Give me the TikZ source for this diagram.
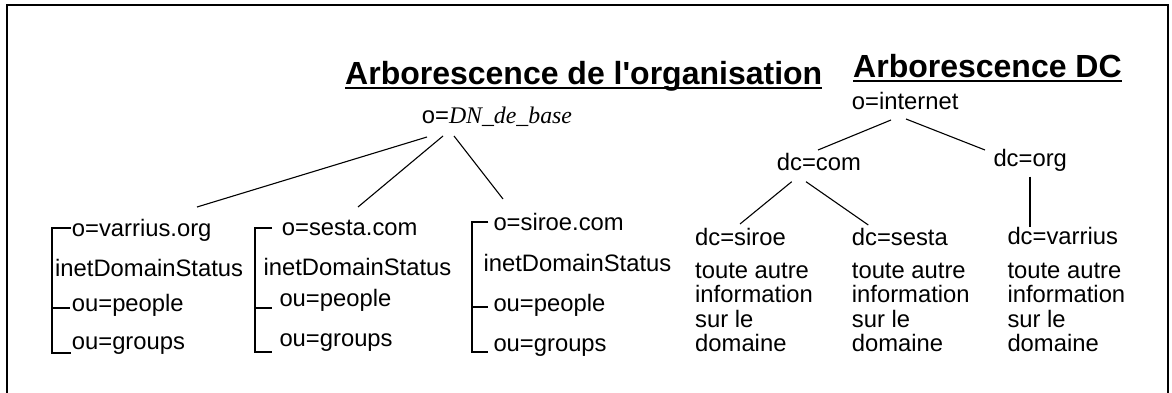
\documentclass[tikz,border=0pt]{standalone}
\usepackage{fontspec}
\setmainfont{Liberation Sans}
\newfontfamily\timesfam{Liberation Serif}
\usetikzlibrary{calc}
\begin{document}
\begin{tikzpicture}[x=1pt,y=-1pt,
  txt/.style={anchor=base west,inner sep=0pt,font=\fontsize{23.8}{24.4}\selectfont},
  para/.style={txt,align=left},
  ttl/.style={anchor=base west,inner sep=0pt,font=\fontsize{32}{36}\selectfont\bfseries},
  frameline/.style={line width=2pt},
  ul/.style={line width=2pt},
  bracket/.style={line width=2pt},
  edge/.style={line width=1.1pt},
  vedge/.style={line width=2pt}]
\useasboundingbox (0,0) rectangle (1172,393);
% frame
\draw[frameline] (6.7,395) -- (6.7,5) -- (1167.5,5) -- (1167.5,395);
% titles
\node[ttl] (t1) at (345,85) {Arborescence de l\textquotesingle organisation};
\node[ttl] (t2) at (853,78) {Arborescence DC};
\draw[ul] ($(t1.base west)+(0,2.8)$) -- ($(t1.base east)+(0,2.8)$);
\draw[ul] ($(t2.base west)+(0,2.8)$) -- ($(t2.base east)+(0,2.8)$);
% organisation tree
\node[txt] (dn) at (421.7,123.3) {o={\timesfam\itshape DN\_de\_base}};
\node[txt] (v1) at (71.7,236.7) {o=varrius.org};
\node[txt] (v2) at (55,276.7) {inetDomainStatus};
\node[txt] (v3) at (71.7,311.7) {ou=people};
\node[txt] (v4) at (71.7,349) {ou=groups};
\node[txt] (s1) at (281.7,235) {o=sesta.com};
\node[txt] (s2) at (263.3,275) {inetDomainStatus};
\node[txt] (s3) at (279.3,306.7) {ou=people};
\node[txt] (s4) at (279.3,346.7) {ou=groups};
\node[txt] (r1) at (493.3,230) {o=siroe.com};
\node[txt] (r2) at (483.3,271.7) {inetDomainStatus};
\node[txt] (r3) at (493.3,311.7) {ou=people};
\node[txt] (r4) at (493.3,351.7) {ou=groups};
\draw[edge] ($(dn.base west)+(5.3,13.7)$) -- ($(v1.base west)+(125.3,-29.7)$);
\draw[edge] ($(dn.base west)+(21.3,12.7)$) -- ($(s1.base west)+(76.3,-28)$);
\draw[edge] ($(dn.base west)+(32.3,12.7)$) -- ($(r1.base west)+(9.7,-31)$);
% brackets
\draw[bracket] (70.5,228) -- (52.3,228) -- (52.3,353) -- (70.5,353);
\draw[bracket] (52.3,308.3) -- (70,308.3);
\draw[bracket] (272,228) -- (255,228) -- (255,352) -- (272,352);
\draw[bracket] (255,308) -- (272,308);
\draw[bracket] (488.3,222.3) -- (471.7,222.3) -- (471.7,351.7) -- (488.3,351.7);
\draw[bracket] (471.7,306.7) -- (488.3,306.7);
% DC tree
\node[txt] (inet) at (851.7,110) {o=internet};
\node[txt] (com) at (776.7,170.7) {dc=com};
\node[txt] (org) at (993.3,166.7) {dc=org};
\node[txt] (dsiroe) at (695,245) {dc=siroe};
\node[txt] (dsesta) at (851.7,245) {dc=sesta};
\node[txt] (dvarr) at (1007.3,244) {dc=varrius};
\node[para] (p1) at (695,351.7) {toute autre\\information\\sur le\\domaine};
\node[para] (p2) at (851.7,351.7) {toute autre\\information\\sur le\\domaine};
\node[para] (p3) at (1007.3,351.7) {toute autre\\information\\sur le\\domaine};
\draw[edge] ($(inet.base west)+(39.3,10)$) -- ($(com.base west)+(41.3,-20.7)$);
\draw[edge] ($(inet.base west)+(54.3,9)$) -- ($(org.base west)+(-8.3,-16.7)$);
\draw[edge] ($(com.base west)+(15,11)$) -- ($(dsiroe.base west)+(45,-21)$);
\draw[edge] ($(com.base west)+(29.3,11)$) -- ($(dsesta.base west)+(16.6,-20)$);
\draw[vedge] ($(org.base west)+(36.7,10)$) -- ($(dvarr.base west)+(22.7,-17.3)$);
\end{tikzpicture}
\end{document}
